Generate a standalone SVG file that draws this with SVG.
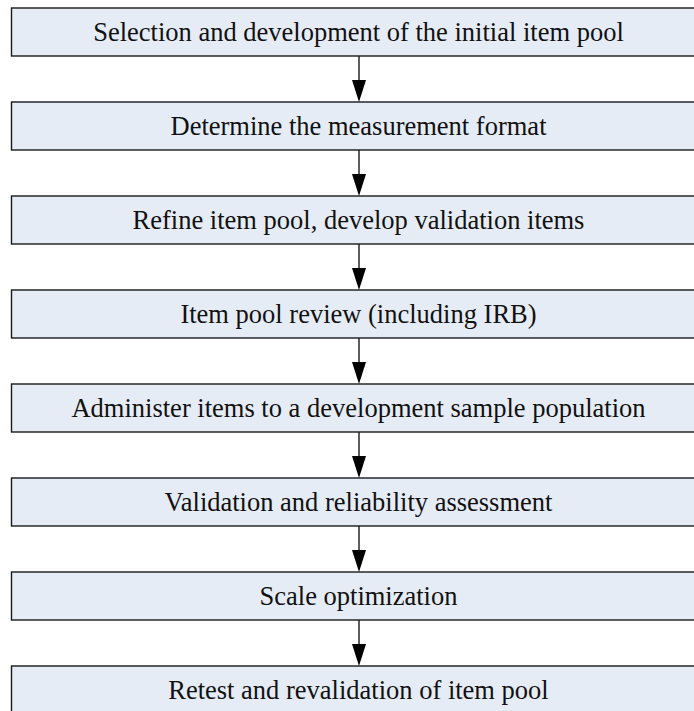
<svg xmlns="http://www.w3.org/2000/svg" width="694" height="711" viewBox="0 0 694 711">
  <defs>
    <style>
      .box { fill: #e6ecf6; stroke: #1a1a1a; stroke-width: 1.4; }
      .lbl { font-family: "Liberation Serif", "Times New Roman", serif; font-size: 26.5px; fill: #111; text-anchor: middle; }
      .edge { stroke: #1a1a1a; stroke-width: 1.4; fill: none; }
      .head { fill: #000; }
    </style>
  </defs>
  <rect width="694" height="711" fill="#ffffff"/>

  <g id="connectors">
    <path class="edge" d="M359 56V82"/><polygon class="head" points="352,80 366,80 359,102"/>
    <path class="edge" d="M359 150V176"/><polygon class="head" points="352,174 366,174 359,196"/>
    <path class="edge" d="M359 244V270"/><polygon class="head" points="352,268 366,268 359,290"/>
    <path class="edge" d="M359 338V364"/><polygon class="head" points="352,362 366,362 359,384"/>
    <path class="edge" d="M359 432V458"/><polygon class="head" points="352,456 366,456 359,478"/>
    <path class="edge" d="M359 526V552"/><polygon class="head" points="352,550 366,550 359,572"/>
    <path class="edge" d="M359 620V646"/><polygon class="head" points="352,644 366,644 359,666"/>
  </g>

  <g id="step1"><rect class="box" x="11.5" y="8" width="684" height="48"/><text class="lbl" x="358.5" y="40.5">Selection and development of the initial item pool</text></g>
  <g id="step2"><rect class="box" x="11.5" y="102" width="684" height="48"/><text class="lbl" x="358.5" y="134.5">Determine the measurement format</text></g>
  <g id="step3"><rect class="box" x="11.5" y="196" width="684" height="48"/><text class="lbl" x="358.5" y="228.5">Refine item pool, develop validation items</text></g>
  <g id="step4"><rect class="box" x="11.5" y="290" width="684" height="48"/><text class="lbl" x="358.5" y="322.5">Item pool review (including IRB)</text></g>
  <g id="step5"><rect class="box" x="11.5" y="384" width="684" height="48"/><text class="lbl" x="358.5" y="416.5">Administer items to a development sample population</text></g>
  <g id="step6"><rect class="box" x="11.5" y="478" width="684" height="48"/><text class="lbl" x="358.5" y="510.5">Validation and reliability assessment</text></g>
  <g id="step7"><rect class="box" x="11.5" y="572" width="684" height="48"/><text class="lbl" x="358.5" y="604.5">Scale optimization</text></g>
  <g id="step8"><rect class="box" x="11.5" y="666" width="684" height="48"/><text class="lbl" x="358.5" y="698.5">Retest and revalidation of item pool</text></g>
</svg>
